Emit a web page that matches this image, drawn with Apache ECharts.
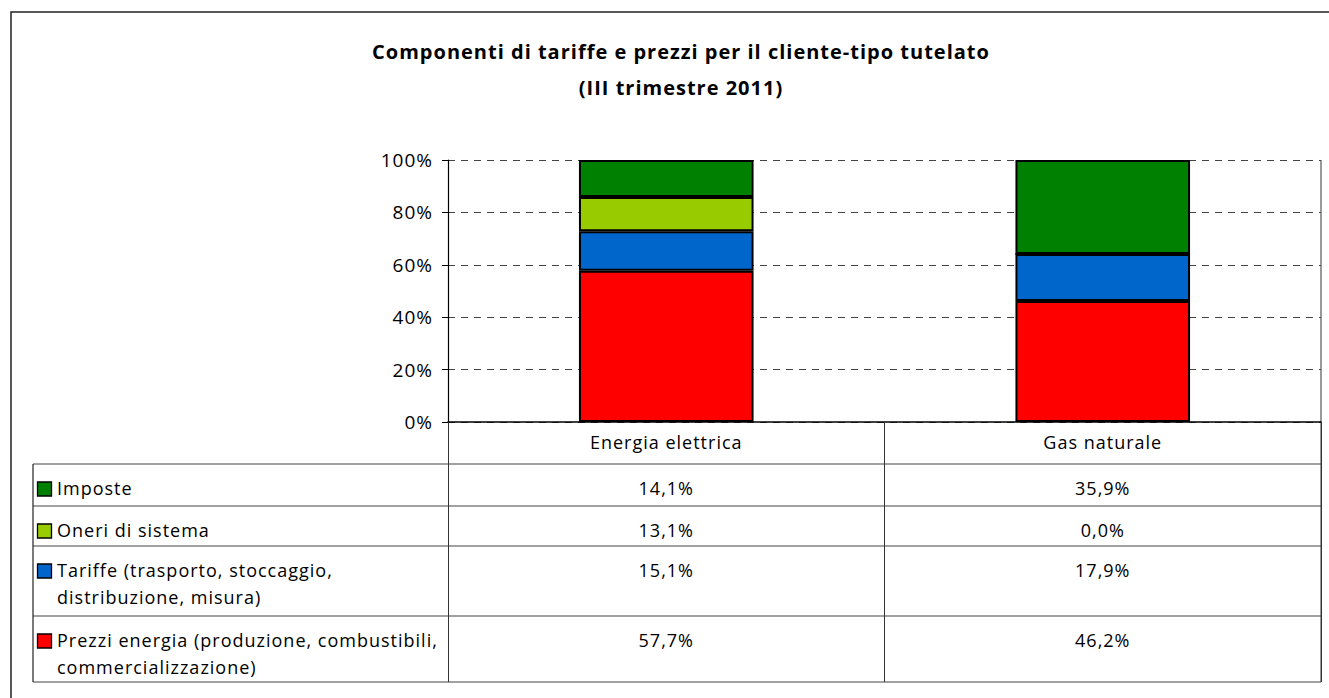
<!DOCTYPE html>
<html>
<head>
<meta charset="utf-8">
<script src="https://cdn.jsdelivr.net/npm/echarts@6/dist/echarts.min.js"></script>
<style>
    html, body { margin: 0; padding: 0; background: #fff; }
    #chart { width: 1329px; height: 698px; }
    /* testo leggermente spaziato come nell'originale */
    #chart svg text { letter-spacing: 1px; }
</style>
</head>
<body>
<div id="chart"></div>
<script>
    // dati
    const categories = ['Energia elettrica', 'Gas naturale'];
    const seriesNames = ['Imposte', 'Oneri di sistema', 'Tariffe (trasporto, stoccaggio,\ndistribuzione, misura)', 'Prezzi energia (produzione, combustibili,\ncommercializzazione)'];
    const imposte = [14.1, 35.9];
    const oneri = [13.1, 0.0];
    const tariffe = [15.1, 17.9];
    const prezzi = [57.7, 46.2];
    const colors = ['#008000', '#99CC00', '#0066CC', '#FF0000'];

    const FONT = '"Open Sans"';
    // righe della tabella (in alto -> in basso)
    const rowTops = [464, 506, 546, 616];
    const tableBottom = 682;
    const tableLeft = 33;
    const tableRight = 1321;

    let chart = echarts.init(document.getElementById('chart'), null, { renderer: 'svg' });
    let values = [imposte, oneri, tariffe, prezzi];

    let fmt = function (v) {
        return v.toFixed(1).replace('.', ',') + '%';
    };

    // le serie vengono impilate dal basso: prezzi, tariffe, oneri, imposte
    let series = [];
    for (let i = values.length - 1; i >= 0; i--) {
        series.push({
            name: seriesNames[i],
            type: 'bar',
            stack: 'tot',
            barWidth: '40%',
            data: values[i],
            itemStyle: {
                color: colors[i],
                borderColor: '#000',
                borderWidth: 2
            },
            silent: true
        });
    }

    let option = {
        animation: false,
        backgroundColor: '#fff',
        textStyle: { fontFamily: FONT },
        title: {
            text: 'Componenti di tariffe e prezzi per il cliente-tipo tutelato\n(III trimestre 2011)',
            left: 676,
            top: 28,
            textAlign: 'center',
            textStyle: {
                fontFamily: FONT,
                fontSize: 20,
                fontWeight: 'bold',
                color: '#000',
                lineHeight: 36
            }
        },
        grid: {
            left: 448,
            top: 160,
            width: 873,
            height: 262
        },
        xAxis: {
            type: 'category',
            data: categories,
            axisLine: { lineStyle: { color: '#000', width: 1.5 } },
            axisTick: {
                show: true,
                length: 260,
                lineStyle: { color: '#333', width: 1 }
            },
            axisLabel: {
                color: '#000',
                fontSize: 18,
                margin: 11,
                fontFamily: FONT
            },
            splitLine: { show: false }
        },
        yAxis: {
            type: 'value',
            min: 0,
            max: 100,
            interval: 20,
            axisLine: { show: true, lineStyle: { color: '#000', width: 1.2 } },
            axisTick: { show: true, length: 6, lineStyle: { color: '#000' } },
            axisLabel: {
                formatter: '{value}%',
                color: '#000',
                fontSize: 19,
                margin: 15,
                fontFamily: FONT
            },
            splitLine: {
                show: true,
                lineStyle: { color: '#444', type: [7, 6], width: 1 }
            }
        },
        series: series
    };

    chart.setOption(option);

    // tabella dati sotto il grafico
    let graphic = [];
    // cornice esterna
    graphic.push({
        type: 'rect',
        shape: { x: 11, y: 12, width: 1340, height: 720 },
        style: { fill: 'none', stroke: '#222', lineWidth: 1.5 },
        silent: true
    });
    // bordo destro dell'area del grafico
    graphic.push({
        type: 'line',
        shape: { x1: tableRight, y1: 160, x2: tableRight, y2: tableBottom },
        style: { stroke: '#555', lineWidth: 1.2 },
        silent: true
    });
    // linee orizzontali
    rowTops.concat([tableBottom]).forEach(function (y) {
        graphic.push({
            type: 'line',
            shape: { x1: tableLeft, y1: y, x2: tableRight, y2: y },
            style: { stroke: '#444', lineWidth: 1.2 },
            silent: true
        });
    });
    graphic.push({
        type: 'line',
        shape: { x1: tableLeft, y1: rowTops[0], x2: tableLeft, y2: tableBottom },
        style: { stroke: '#222', lineWidth: 1.2 },
        silent: true
    });

    let colX = categories.map(function (c) {
        return chart.convertToPixel({ xAxisIndex: 0 }, c);
    });

    rowTops.forEach(function (top, r) {
        // quadratino della legenda
        graphic.push({
            type: 'rect',
            shape: { x: 37.5, y: top + 18, width: 14, height: 14 },
            style: { fill: colors[r], stroke: '#000', lineWidth: 1.3 },
            silent: true
        });
        graphic.push({
            type: 'text',
            x: 57,
            y: top + 10,
            style: {
                text: seriesNames[r],
                fontFamily: FONT,
                fontSize: 18,
                lineHeight: 27,
                fill: '#000',
                textAlign: 'left',
                textVerticalAlign: 'top'
            },
            silent: true
        });
        colX.forEach(function (x, c) {
            graphic.push({
                type: 'text',
                x: x,
                y: top + 10,
                style: {
                    text: fmt(values[r][c]),
                    fontFamily: FONT,
                    fontSize: 18,
                    lineHeight: 27,
                    fill: '#000',
                    textAlign: 'center',
                    textVerticalAlign: 'top'
                },
                silent: true
            });
        });
    });

    chart.setOption({ graphic: graphic });
</script>
</body>
</html>
